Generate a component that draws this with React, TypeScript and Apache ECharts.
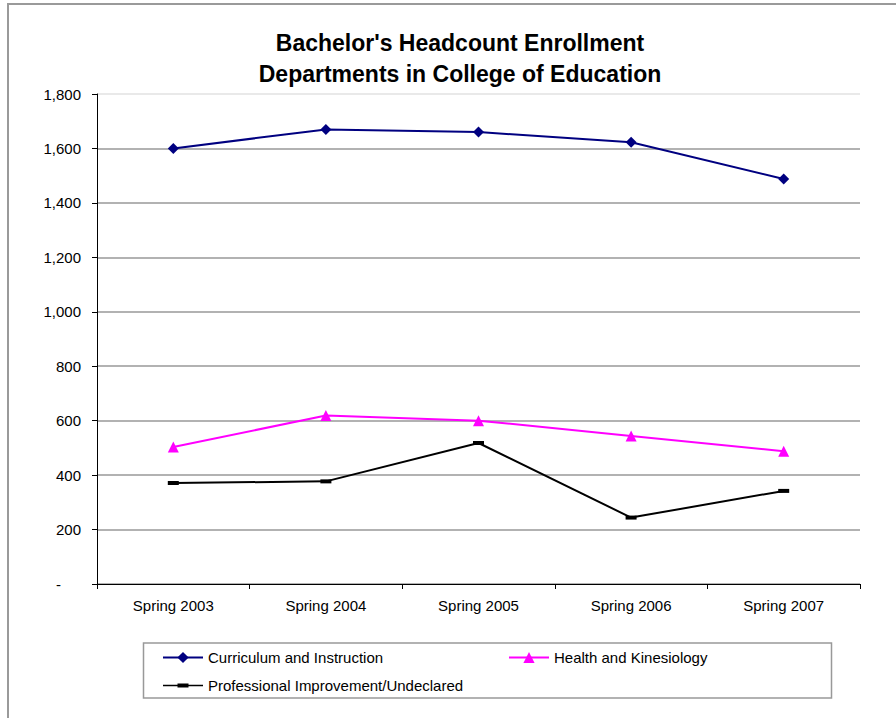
import React, { useEffect, useRef } from "react";
import * as echarts from "echarts";

const categories = ["Spring 2003", "Spring 2004", "Spring 2005", "Spring 2006", "Spring 2007"];
const curriculum = [1600, 1670, 1660, 1623, 1488];
const health = [503, 619, 600, 544, 488];
const professional = [371, 377, 518, 244, 342];
const seriesNames = [
  "Curriculum and Instruction",
  "Health and Kinesiology",
  "Professional Improvement/Undeclared",
];
const titleLines = ["Bachelor's Headcount Enrollment", "Departments in College of Education"];

const FONT = "Liberation Sans, Arial, sans-serif";
const DASH_ICON =
  "path://M0,0h0.01v0.01h-0.01z M0,6.25h40v1.5h-40z M14.5,5h11v4h-11z M39.99,13.99h0.01v0.01h-0.01z";

export default function App() {
  const ref = useRef<HTMLDivElement>(null);
  useEffect(() => {
    if (!ref.current) return;
    const chart = echarts.init(ref.current, null, { renderer: "svg" });
    const gridColors = ["#999", "#999", "#999", "#999", "#999", "#999", "#999", "#999", "#999", "#e2e2e2"];
    chart.setOption({
      animation: false,
      backgroundColor: "#ffffff",
      textStyle: { fontFamily: FONT },
      title: {
        text: titleLines.join("\n"),
        left: 460,
        top: 27,
        padding: 0,
        textAlign: "center",
        textStyle: {
          fontFamily: FONT,
          fontSize: 23,
          fontWeight: "bold",
          color: "#000",
          lineHeight: 31,
        },
      },
      grid: { left: 97, right: 36, top: 94, bottom: 134, containLabel: false },
      xAxis: {
        type: "category",
        data: categories,
        boundaryGap: true,
        axisLine: { lineStyle: { color: "#000", width: 1 } },
        axisTick: { show: true, length: 5, lineStyle: { color: "#000" } },
        axisLabel: { color: "#000", fontSize: 15, fontFamily: FONT, margin: 14 },
        splitLine: { show: false },
      },
      yAxis: {
        type: "value",
        min: 0,
        max: 1800,
        interval: 200,
        axisLine: { show: true, lineStyle: { color: "#000", width: 1 } },
        axisTick: { show: true, length: 5, lineStyle: { color: "#000" } },
        axisLabel: {
          color: "#000",
          fontSize: 15,
          fontFamily: FONT,
          margin: 16,
          formatter: (v: number) => (v === 0 ? "{d|-}" : v.toLocaleString("en-US")),
          rich: { d: { fontSize: 15, fontFamily: FONT, color: "#000", padding: [0, 20, 0, 0] } },
        },
        splitLine: { show: true, lineStyle: { color: gridColors, width: 1.5 } },
      },
      legend: [
        {
          data: [seriesNames[0], { name: seriesNames[2], icon: DASH_ICON }],
          orient: "vertical",
          left: 162,
          top: 650,
          padding: 0,
          itemWidth: 40,
          itemHeight: 14,
          itemGap: 13,
          textStyle: { fontSize: 15, fontFamily: FONT, color: "#000" },
        },
        {
          data: [seriesNames[1]],
          orient: "vertical",
          left: 508,
          top: 650,
          padding: 0,
          itemWidth: 40,
          itemHeight: 14,
          textStyle: { fontSize: 15, fontFamily: FONT, color: "#000" },
        },
      ],
      graphic: [
        {
          type: "rect",
          shape: { x: 8, y: 4, width: 900, height: 730 },
          style: { fill: "none", stroke: "#9a9a9a", lineWidth: 2 },
          silent: true,
        },
        {
          type: "rect",
          shape: { x: 143.5, y: 643, width: 688, height: 55 },
          style: { fill: "none", stroke: "#999", lineWidth: 1.5 },
          silent: true,
          z: -1,
        },
      ],
      series: [
        {
          name: seriesNames[0],
          type: "line",
          data: curriculum,
          color: "#000080",
          symbol: "diamond",
          symbolSize: 11,
          lineStyle: { width: 2, color: "#000080" },
          itemStyle: { color: "#000080" },
        },
        {
          name: seriesNames[1],
          type: "line",
          data: health,
          color: "#FF00FF",
          symbol: "triangle",
          symbolSize: 11,
          lineStyle: { width: 2, color: "#FF00FF" },
          itemStyle: { color: "#FF00FF" },
        },
        {
          name: seriesNames[2],
          type: "line",
          data: professional,
          color: "#000000",
          symbol: "rect",
          symbolSize: [11, 4],
          lineStyle: { width: 2, color: "#000000" },
          itemStyle: { color: "#000000" },
        },
      ],
    });
    return () => chart.dispose();
  }, []);
  return (
    <div
      ref={ref}
      style={{ position: "fixed", left: 0, top: 0, width: 896, height: 718, background: "#fff" }}
    />
  );
}
